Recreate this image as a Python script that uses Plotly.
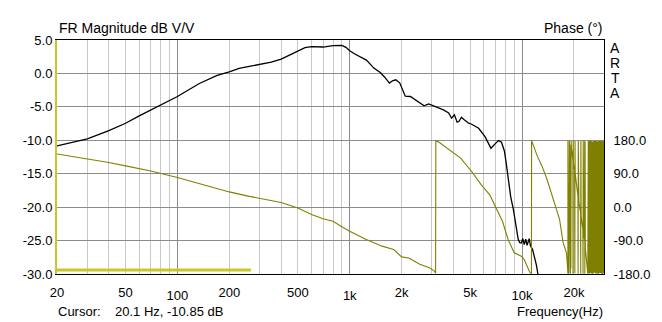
import math
import plotly.graph_objects as go

# Magnitude response (Hz, dB)
mag_freq = [20, 25, 30, 40, 50, 60, 75, 100, 134, 170, 200, 228, 261, 300, 350, 400,
            450, 500, 550, 600, 700, 800, 900, 950, 1000, 1070, 1170, 1250, 1380, 1510,
            1600, 1700, 1770, 1850, 1950, 2100, 2250, 2400, 2550, 2700, 2870, 3100, 3300,
            3500, 3750, 3900, 4050, 4200, 4300, 4450, 4600, 4900, 5100, 5600, 6100, 6600,
            7000, 7300, 7600, 7900, 8100, 8300, 8600, 8900, 9200, 9500, 9700, 9900, 10100,
            10300, 10500, 10700, 11000, 11200, 11500, 11800, 12100, 12400]
mag_db = [-10.85, -10.3, -9.8, -8.55, -7.45, -6.35, -5.05, -3.45, -1.5, -0.3, 0.25, 0.75,
          1.05, 1.35, 1.7, 2.15, 2.8, 3.4, 3.85, 4.0, 3.95, 4.15, 4.2, 3.9, 3.4, 2.9, 2.45,
          2.0, 0.8, 0.1, -0.6, -1.45, -1.1, -0.95, -1.4, -3.4, -3.45, -3.95, -4.4, -4.85,
          -4.55, -4.9, -5.2, -5.45, -5.9, -6.7, -6.2, -7.3, -7.2, -6.55, -6.9, -7.45, -7.6,
          -8.2, -9.45, -11.2, -10.5, -10.05, -10.3, -11.6, -13.5, -15.4, -18.5, -20.3,
          -22.5, -24.8, -25.3, -25.35, -24.7, -25.6, -24.8, -25.7, -24.7, -25.8, -26.3,
          -27.3, -28.6, -30.2]

# Wrapped phase (Hz, degrees)
phase_freq = [20, 25, 30, 40, 50, 69, 100, 140, 200, 261, 300, 400, 500, 600, 700, 800,
              900, 1000, 1230, 1540, 1800, 2000, 2200, 2550, 2900, 3100, 3150,
              3160, 3300, 3900, 4400, 5100, 5800, 6500, 7100, 7700, 8300, 9000, 9900,
              10300, 10800, 11100, 11340,
              11360, 12300, 12900, 13100, 14000, 14900, 15800, 16500, 17300, 18100, 18300,
              18460, 18470, 18580, 18650, 18710, 18830, 18900, 18960, 19090, 19150, 19210,
              19280, 19340, 19470, 19600, 19730, 19760, 19800, 19870, 20000, 20190, 20250,
              20300, 20350, 20540, 20820, 20960, 21100, 21150, 21200, 21240, 21300, 21380,
              21580, 21870, 21900, 21950, 22040, 22250, 22540, 22600, 22650, 22690, 22750,
              22840, 23050, 23100, 23150, 23230, 23300, 23440, 23750, 23910, 24070,
              24231, 24393, 24556, 24720, 24885, 25051, 25218, 25387, 25556, 25727, 25899,
              26072, 26246, 26421, 26597, 26775, 26954, 27134, 27315, 27497, 27681, 27866,
              28052, 28239, 28428, 28618, 28809, 29001, 29195, 29390, 29586, 29784, 29983]
phase_deg = [143, 136, 130, 120, 111, 98, 80, 62, 41, 29, 24, 12.6, -2.4, -20, -31, -38,
             -53, -65, -86, -105, -114, -134, -137, -154, -163, -172, -178,
             179, 174.6, 149, 132, 96, 60, 33, -2, -38, -87, -123, -132,
             -141, -163, -176, -179,
             179, 136, 114, 109, 73, 33, -2, -32, -95, -123, -150,
             -179, 179, -179, 178, -176, 179, -172, 176, -179, 168, -165,
             178, 160, 150, 138, 125, -179, 179, 118, 110, 100, -178,
             178, 92, 75, 50, 38, 29, -179, 179, -177, 178, 15,
             0, -15, -179, 178, -25, -40, -60, -179, 179, -178, 177,
             -75, -87, 179, -179, 176, -110, -125, -150, -165, -179,
             179, -179, 178, -178, 179, -177, 179, -179, 176, -179, 179,
             -178, 179, -176, 178, -179, 179, -178, 177, -179, 179, -179,
             178, -177, 179, -178, 179, -179, 178, -179, 179, -178, 179]

# Low-frequency reference band
band_freq = [20, 267]
band_db = [-29.4, -29.4]

# Axis ticks
db_ticks = [-30, -25, -20, -15, -10, -5, 0, 5]
phase_ticks = [-180, -90, 0, 90, 180]
decade_ticks = [100, 1000, 10000]
decade_text = ["100", "1k", "10k"]
label_ticks = [20, 50, 200, 500, 2000, 5000, 20000]
label_text = ["20", "50", "200", "500", "2k", "5k", "20k"]
minor_ticks = [20, 30, 40, 50, 60, 70, 80, 90, 200, 300, 400, 500, 600, 700, 800, 900,
               2000, 3000, 4000, 5000, 6000, 7000, 8000, 9000, 20000]

F_LO, F_HI = 20, 29900
xr = [math.log10(F_LO), math.log10(F_HI)]

FONT = "Liberation Sans, Arial, sans-serif"
OLIVE = "#808000"
YELLOW = "#c8c828"
GRID_DARK = "#8c8c8c"
GRID_LIGHT = "#c8c8c8"

fig = go.Figure()
fig.add_trace(go.Scatter(x=band_freq, y=band_db, mode="lines",
                         line=dict(color=YELLOW, width=3), xaxis="x", yaxis="y"))
fig.add_trace(go.Scatter(x=phase_freq, y=phase_deg, mode="lines",
                         line=dict(color=OLIVE, width=1.1), xaxis="x", yaxis="y2"))
fig.add_trace(go.Scatter(x=mag_freq, y=mag_db, mode="lines",
                         line=dict(color="black", width=1.3), xaxis="x", yaxis="y"))
# empty trace carrying the labelled-frequency axis
fig.add_trace(go.Scatter(x=[], y=[], xaxis="x3", yaxis="y", showlegend=False))

tickfont = dict(family=FONT, size=13, color="black")

fig.update_layout(
    width=662, height=322,
    margin=dict(l=57, r=56, t=40, b=48),
    paper_bgcolor="white", plot_bgcolor="white",
    showlegend=False,
    xaxis=dict(type="log", range=xr, tickmode="array", tickvals=decade_ticks,
               ticktext=decade_text, showgrid=True, gridcolor=GRID_DARK, gridwidth=1,
               minor=dict(tickmode="array", tickvals=minor_ticks, showgrid=True,
                          gridcolor=GRID_LIGHT, gridwidth=1, ticks=""),
               showline=True, linecolor="black", linewidth=1, mirror=True,
               ticks="", tickfont=tickfont, zeroline=False, ticklabelstandoff=9),
    xaxis3=dict(type="log", range=xr, overlaying="x", anchor="y", side="bottom",
                tickmode="array", tickvals=label_ticks, ticktext=label_text,
                showgrid=False, showline=False, ticks="", tickfont=tickfont,
                zeroline=False, ticklabelstandoff=9),
    yaxis=dict(range=[-30, 5], tickmode="array", tickvals=db_ticks,
               ticktext=[f"{v:.1f}" for v in db_ticks],
               showgrid=True, gridcolor=GRID_DARK, gridwidth=1,
               showline=True, linecolor=YELLOW, linewidth=2, ticks="",
               tickfont=tickfont, zeroline=False),
    yaxis2=dict(range=[-180, 450], overlaying="y", side="right", anchor="x",
                tickmode="array", tickvals=phase_ticks,
                ticktext=[f"{v:.1f}" for v in phase_ticks],
                showgrid=False, showline=True, linecolor="black", linewidth=1,
                ticks="", tickfont=tickfont, zeroline=False, ticklabelstandoff=6),
)

def note(text, x, y, xanchor, xshift=0, yshift=0, size=13):
    fig.add_annotation(text=text, x=x, y=y, xref="paper", yref="paper",
                       xanchor=xanchor, yanchor="middle", xshift=xshift, yshift=yshift,
                       showarrow=False, font=dict(family=FONT, size=size, color="black"))

note("FR Magnitude dB V/V", 0, 1, "left", xshift=0, yshift=12, size=14)
note("Phase (°)", 1, 1, "right", xshift=1, yshift=12, size=14)
for i, ch in enumerate("ARTA"):
    note(ch, 1, 1, "center", xshift=11, yshift=-8 - 15 * i, size=14)
note("Cursor:", 0, 0, "left", xshift=-1, yshift=-37)
note("20.1 Hz, -10.85 dB", 0, 0, "left", xshift=56, yshift=-37)
note("Frequency(Hz)", 1, 0, "right", xshift=1, yshift=-37)

fig.write_html("out.html")
